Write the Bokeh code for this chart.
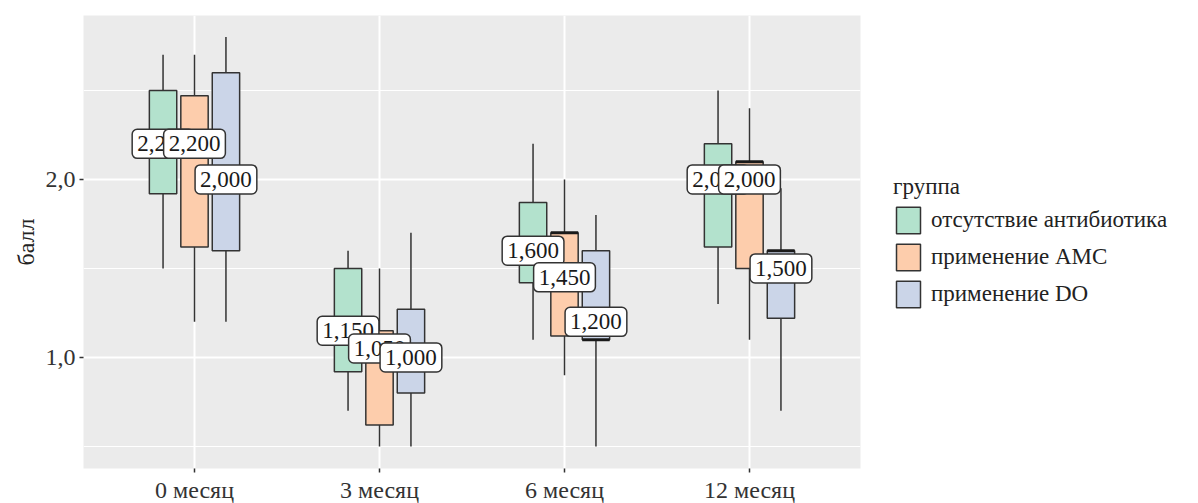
from bokeh.plotting import figure
from bokeh.models import (Range1d, FixedTicker, Label, Legend, LegendItem)
from bokeh.embed import file_html
from bokeh.resources import INLINE

# ---- data -------------------------------------------------------------
months = ["0 месяц", "3 месяц", "6 месяц", "12 месяц"]
groups = ["отсутствие антибиотика", "применение AMC", "применение DO"]
colors = ["#b3e2cd", "#fdcdac", "#cbd5e8"]

# отсутствие антибиотика
none_hi = [2.70, 1.60, 2.20, 2.50]
none_q3 = [2.50, 1.50, 1.87, 2.20]
none_med = [2.20, 1.15, 1.60, 2.00]
none_q1 = [1.92, 0.92, 1.42, 1.62]
none_lo = [1.50, 0.70, 1.10, 1.30]
none_lbl = [2.200, 1.150, 1.600, 2.000]

# применение AMC
amc_hi = [2.70, 1.50, 2.00, 2.40]
amc_q3 = [2.47, 1.15, 1.70, 2.10]
amc_med = [2.20, 1.05, 1.70, 2.10]
amc_q1 = [1.62, 0.62, 1.12, 1.50]
amc_lo = [1.20, 0.50, 0.90, 1.10]
amc_lbl = [2.200, 1.050, 1.450, 2.000]

# применение DO
do_hi = [2.80, 1.70, 1.80, 1.95]
do_q3 = [2.60, 1.27, 1.60, 1.60]
do_med = [2.00, 1.00, 1.10, 1.60]
do_q1 = [1.60, 0.80, 1.10, 1.22]
do_lo = [1.20, 0.50, 0.50, 0.70]
do_lbl = [2.000, 1.000, 1.200, 1.500]

series = [
    (none_hi, none_q3, none_med, none_q1, none_lo, none_lbl),
    (amc_hi, amc_q3, amc_med, amc_q1, amc_lo, amc_lbl),
    (do_hi, do_q3, do_med, do_q1, do_lo, do_lbl),
]

FONT = "Liberation Serif"
DODGE = [-0.17, 0.0, 0.17]
BOX_W = 0.148

p = figure(frame_width=777, frame_height=453,
           min_border_left=83, min_border_right=338,
           min_border_top=15, min_border_bottom=35,
           x_range=Range1d(0.4, 4.6), y_range=Range1d(0.376, 2.921),
           output_backend="svg", toolbar_location=None,
           background_fill_color="#ebebeb", border_fill_color="white",
           outline_line_color=None)

# grid
p.xgrid.ticker = FixedTicker(ticks=[1, 2, 3, 4])
p.ygrid.ticker = FixedTicker(ticks=[1.0, 2.0], minor_ticks=[0.5, 1.5, 2.5])
for g in (p.xgrid, p.ygrid):
    g.grid_line_color = "white"
    g.grid_line_width = 2
p.ygrid.minor_grid_line_color = "white"
p.ygrid.minor_grid_line_width = 1

# axes
p.xaxis.ticker = FixedTicker(ticks=[1, 2, 3, 4])
p.xaxis.major_label_overrides = {i + 1: m for i, m in enumerate(months)}
p.yaxis.ticker = FixedTicker(ticks=[1.0, 2.0])
p.yaxis.major_label_overrides = {1.0: "1,0", 2.0: "2,0"}
p.yaxis.axis_label = "балл"
for ax in (p.xaxis, p.yaxis):
    ax.axis_line_color = None
    ax.major_tick_line_color = "#333333"
    ax.major_tick_line_width = 1.5
    ax.major_tick_out = 4
    ax.major_tick_in = 0
    ax.minor_tick_line_color = None
    ax.major_label_text_font = FONT
    ax.major_label_text_font_size = "24px"
    ax.major_label_text_color = "#333333"
    ax.axis_label_text_font = FONT
    ax.axis_label_text_font_size = "24px"
    ax.axis_label_text_font_style = "normal"
    ax.axis_label_text_color = "#222222"
p.xaxis.major_label_standoff = 4
p.yaxis.major_label_standoff = 4
p.yaxis.axis_label_standoff = 4

legend_items = []
for gi, (hi, q3, med, q1, lo, lbl) in enumerate(series):
    xs = [i + 1 + DODGE[gi] for i in range(len(months))]
    p.segment(x0=xs, x1=xs, y0=q3, y1=hi, line_color="#333333", line_width=1.5)
    p.segment(x0=xs, x1=xs, y0=lo, y1=q1, line_color="#333333", line_width=1.5)
    box = p.vbar(x=xs, width=BOX_W, top=q3, bottom=q1, fill_color=colors[gi],
                 line_color="#333333", line_width=1.5)
    mline = p.segment(x0=[x - BOX_W / 2 for x in xs], x1=[x + BOX_W / 2 for x in xs],
                      y0=med, y1=med, line_color="#1a1a1a", line_width=3)
    legend_items.append(LegendItem(label=groups[gi], renderers=[box]))

# value labels, drawn group after group so later ones sit on top
for i in range(len(months)):
    for gi, s in enumerate(series):
        v = s[5][i]
        txt = f"{v:.3f}".replace(".", ",")
        p.add_layout(Label(x=i + 1 + DODGE[gi], y=v, text=txt,
                           text_align="center", text_baseline="middle",
                           text_font=FONT, text_font_size="23px", text_color="#1a1a1a",
                           background_fill_color="white", background_fill_alpha=1,
                           border_line_color="#333333", border_line_width=1.5,
                           border_radius=5, padding=(5, 7)))

legend = Legend(items=legend_items, title="группа", location="center_left",
                title_text_font=FONT, title_text_font_size="23px",
                title_text_font_style="normal", title_text_color="#222222",
                label_text_font=FONT, label_text_font_size="23px",
                label_text_color="#222222",
                glyph_width=30, glyph_height=33, spacing=4, label_standoff=8,
                padding=0, margin=33, border_line_color=None,
                background_fill_alpha=0, title_standoff=4)
p.add_layout(legend, "right")

open("out.html", "w").write(file_html(p, INLINE))
